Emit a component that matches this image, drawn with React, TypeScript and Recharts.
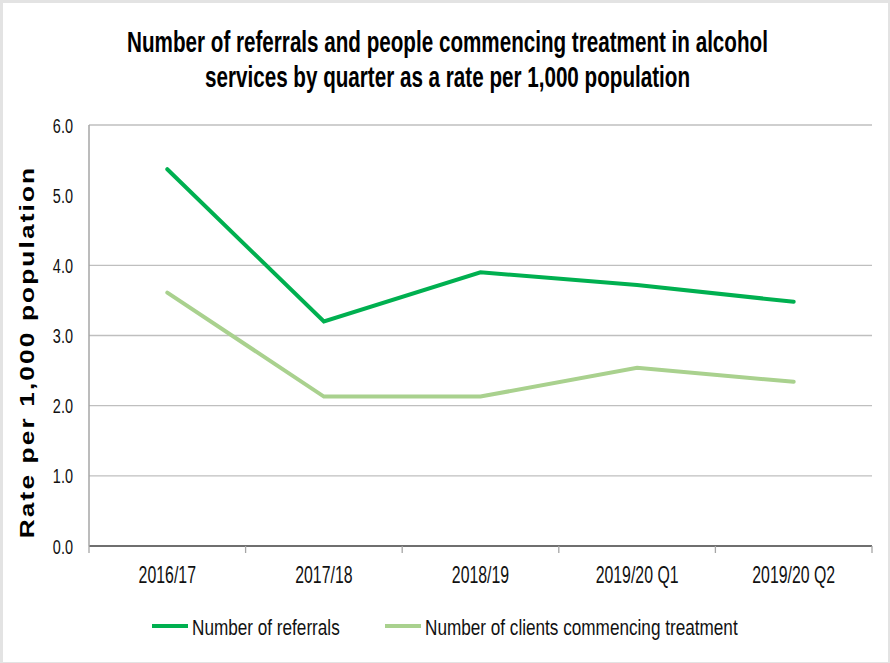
import React from 'react';
import { LineChart, Line, XAxis, YAxis, ReferenceLine } from 'recharts';

const categories = ['2016/17', '2017/18', '2018/19', '2019/20 Q1', '2019/20 Q2'];
const referrals = [5.37, 3.2, 3.9, 3.72, 3.48];
const clients = [3.61, 2.13, 2.13, 2.54, 2.34];
const yTicks = [0, 1, 2, 3, 4, 5, 6];
const gridValues = [1, 2, 3, 4, 6];
const seriesNames = ['Number of referrals', 'Number of clients commencing treatment'];
const seriesColors = ['#00B050', '#A9D18E'];
const titleLines = [
  'Number of referrals and people commencing treatment in alcohol',
  'services by quarter as a rate per 1,000 population',
];
const yAxisTitle = 'Rate per 1,000 population';

const data = categories.map((c, i) => ({ cat: c, referrals: referrals[i], clients: clients[i] }));

const W = 890;
const H = 663;
const PLOT_LEFT = 89;
const PLOT_RIGHT = 872;
const PLOT_TOP = 125;
const PLOT_BOTTOM = 546;
const X_AXIS_H = 40;
const HALF_BAND = (PLOT_RIGHT - PLOT_LEFT) / (2 * categories.length);
const FONT = '"Liberation Sans", Arial, sans-serif';

const XTick = (props: any) => {
  const { x, y, payload, index } = props;
  return (
    <g>
      <line x1={x - HALF_BAND} x2={x - HALF_BAND} y1={y} y2={y + 7} stroke="#a6a6a6" strokeWidth={1.3} />
      {index === categories.length - 1 && (
        <line x1={x + HALF_BAND} x2={x + HALF_BAND} y1={y} y2={y + 7} stroke="#a6a6a6" strokeWidth={1.3} />
      )}
      <text
        transform={`translate(${x} ${y + 37}) scale(0.69 1)`}
        textAnchor="middle"
        fontFamily={FONT}
        fontSize={23}
        fill="#111"
      >
        {payload.value}
      </text>
    </g>
  );
};

const YTick = (props: any) => {
  const { x, y, payload } = props;
  return (
    <text
      transform={`translate(${x - 16} ${y + 7.5}) scale(0.69 1)`}
      textAnchor="end"
      fontFamily={FONT}
      fontSize={21}
      fill="#111"
    >
      {Number(payload.value).toFixed(1)}
    </text>
  );
};

export default function App() {
  return (
    <div style={{ position: 'absolute', left: 0, top: 0, width: W, height: H, background: '#e3e3e3' }}>
      <div style={{ position: 'absolute', left: 3, top: 3, width: W - 5, height: H - 4, background: '#fff' }} />
      <div style={{ position: 'absolute', left: 0, top: 0 }}>
        <LineChart
          width={W}
          height={H}
          data={data}
          margin={{ top: PLOT_TOP, right: W - PLOT_RIGHT, left: 0, bottom: H - PLOT_BOTTOM - X_AXIS_H }}
        >
          {gridValues.map((v) => (
            <ReferenceLine key={v} y={v} stroke="#bfbfbf" strokeWidth={1.3} ifOverflow="extendDomain" />
          ))}
          <XAxis
            dataKey="cat"
            height={X_AXIS_H}
            interval={0}
            padding={{ left: HALF_BAND, right: HALF_BAND }}
            axisLine={{ stroke: '#3f3f3f', strokeWidth: 1.4 }}
            tickLine={false}
            tickSize={0}
            tickMargin={0}
            tick={<XTick />}
          />
          <YAxis
            width={PLOT_LEFT}
            domain={[0, 6]}
            ticks={yTicks}
            interval={0}
            axisLine={{ stroke: '#a6a6a6', strokeWidth: 1.5 }}
            tickLine={false}
            tickSize={0}
            tickMargin={0}
            tick={<YTick />}
          />
          <Line
            type="linear"
            dataKey="referrals"
            name={seriesNames[0]}
            stroke={seriesColors[0]}
            strokeWidth={4}
            strokeLinecap="round"
            dot={false}
            activeDot={false}
            isAnimationActive={false}
          />
          <Line
            type="linear"
            dataKey="clients"
            name={seriesNames[1]}
            stroke={seriesColors[1]}
            strokeWidth={4}
            strokeLinecap="round"
            dot={false}
            activeDot={false}
            isAnimationActive={false}
          />
        </LineChart>
      </div>
      <svg
        width={W}
        height={H}
        style={{ position: 'absolute', left: 0, top: 0, pointerEvents: 'none' }}
      >
        {titleLines.map((t, i) => (
          <text
            key={i}
            transform={`translate(447.5 ${52 + i * 35}) scale(0.688 1)`}
            textAnchor="middle"
            fontFamily={FONT}
            fontWeight="bold"
            fontSize={30}
            fill="#000"
          >
            {t}
          </text>
        ))}
        <text
          transform="translate(34 352) rotate(-90) scale(1.25 1)"
          textAnchor="middle"
          fontFamily={FONT}
          fontWeight="bold"
          fontSize={21}
          letterSpacing={1.7}
          fill="#000"
        >
          {yAxisTitle}
        </text>
        {seriesNames.map((n, i) => {
          const x0 = i === 0 ? 152 : 385;
          return (
            <g key={n}>
              <line x1={x0} x2={x0 + 36} y1={626} y2={626} stroke={seriesColors[i]} strokeWidth={4} />
              <text
                transform={`translate(${x0 + 40} 635) scale(0.78 1)`}
                fontFamily={FONT}
                fontSize={22}
                fill="#111"
              >
                {n}
              </text>
            </g>
          );
        })}
      </svg>
    </div>
  );
}
